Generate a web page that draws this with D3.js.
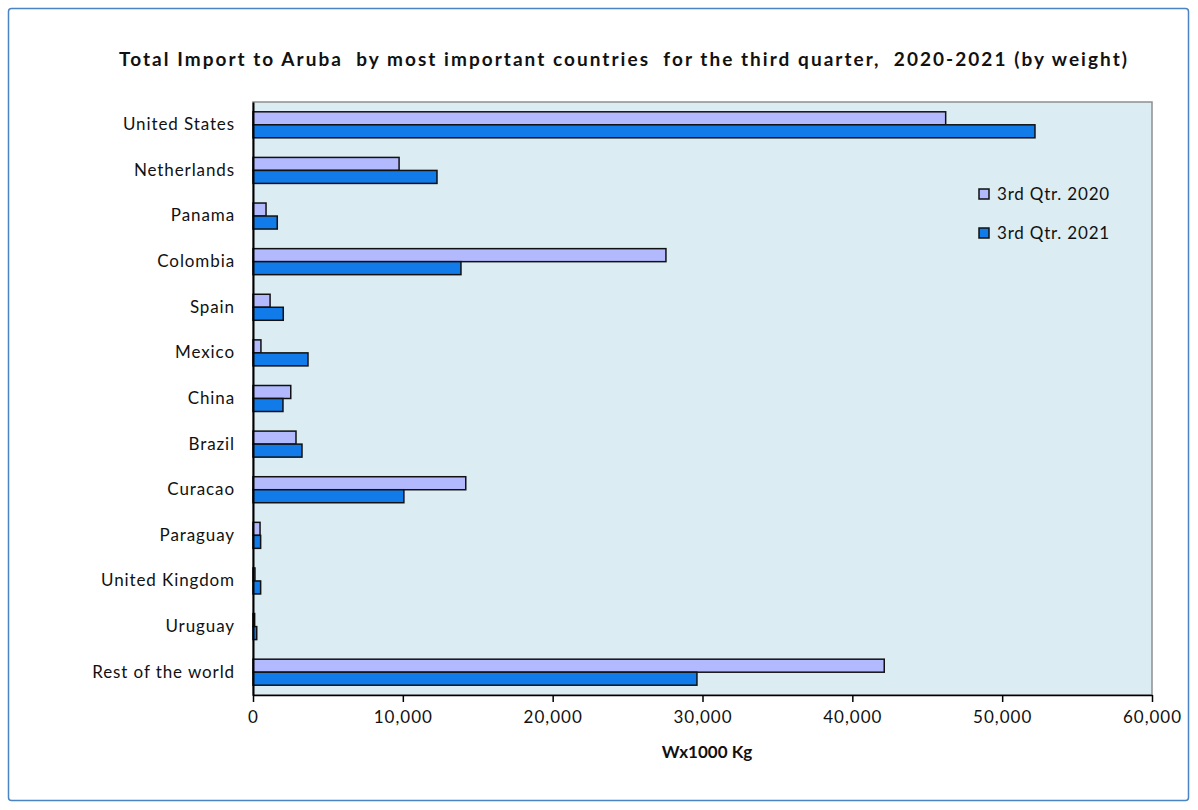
<!DOCTYPE html>
<html><head><meta charset="utf-8">
<script src="https://cdn.jsdelivr.net/npm/d3@7"></script>
<style>body{margin:0;background:#fff;} text{font-family:Lato,"Open Sans",sans-serif;fill:#111;}</style>
</head><body>
<svg id="c" width="1198" height="810"></svg>
<script>
const categories = ["United States","Netherlands","Panama","Colombia","Spain","Mexico","China","Brazil","Curacao","Paraguay","United Kingdom","Uruguay","Rest of the world"];
const q2020 = [46230, 9750, 870, 27560, 1140, 530, 2520, 2870, 14200, 470, 130, 110, 42130];
const q2021 = [52190, 12280, 1620, 13880, 2020, 3670, 2000, 3270, 10070, 510, 510, 250, 29630];
const seriesNames = ["3rd Qtr. 2020", "3rd Qtr. 2021"];
const xTicks = [0,10000,20000,30000,40000,50000,60000];
const colors = ["#b3b9fd", "#117be9"];

const svg = d3.select("#c");
svg.append("rect").attr("x",8.5).attr("y",8.5).attr("width",1180).attr("height",792).attr("rx",3)
  .attr("fill","#fff").attr("stroke","#4a84c4").attr("stroke-width",1.5);

const L=253, R=1152, T=102, B=695;
const x = d3.scaleLinear().domain([0,60000]).range([L,R]);
const p = 1 - 26/45.6;
const y = d3.scaleBand().domain(categories).range([T,B]).paddingInner(p).paddingOuter(p/2);

svg.append("rect").attr("x",L).attr("y",T).attr("width",R-L).attr("height",B-T)
  .attr("fill","#dbedf3").attr("stroke","#8e8e8e").attr("stroke-width",1.5);

svg.append("text").attr("x",623).attr("y",66).attr("text-anchor","middle")
  .attr("font-size",19).attr("font-weight","bold")
  .attr("xml:space","preserve").style("white-space","pre")
  .attr("textLength",1008).attr("lengthAdjust","spacing")
  .text("Total Import to Aruba  by most important countries  for the third quarter,  2020-2021 (by weight)");

const data = categories.map((c,i)=>({c, v:[q2020[i], q2021[i]]}));
const bh = y.bandwidth()/2;
const g = svg.append("g");
[0,1].forEach(s=>{
  g.selectAll(".b"+s).data(data).enter().append("rect")
    .attr("x",x(0)).attr("y",d=>y(d.c)+s*bh)
    .attr("width",d=>x(d.v[s])-x(0)).attr("height",bh)
    .attr("fill",colors[s]).attr("stroke","#111").attr("stroke-width",1.5);
});

// y axis
const ya = svg.append("g").attr("transform",`translate(${L},0)`).call(d3.axisLeft(y).tickSize(0).tickPadding(18));
ya.select(".domain").attr("stroke","#000").attr("stroke-width",2);
ya.selectAll("text").attr("font-size",17).attr("letter-spacing","0.9px").attr("font-family","Lato,sans-serif").attr("fill","#111");

// x axis
const xa = svg.append("g").attr("transform",`translate(0,${B})`)
  .call(d3.axisBottom(x).tickValues(xTicks).tickFormat(d3.format(",")).tickSize(7).tickPadding(9).tickSizeOuter(0));
xa.select(".domain").attr("stroke","#000").attr("stroke-width",1.5);
xa.selectAll("line").attr("stroke","#000").attr("stroke-width",1.5);
xa.selectAll("text").attr("font-size",17).attr("letter-spacing","1px").attr("font-family","Lato,sans-serif").attr("fill","#111");

svg.append("text").attr("x",707).attr("y",758).attr("text-anchor","middle")
  .attr("font-size",17).attr("font-weight","bold").text("Wx1000 Kg");

// legend
const lg = svg.append("g");
seriesNames.forEach((n,i)=>{
  const yy = 194 + i*39;
  lg.append("rect").attr("x",979).attr("y",yy-5).attr("width",10).attr("height",10)
    .attr("fill",colors[i]).attr("stroke","#111").attr("stroke-width",1.5);
  lg.append("text").attr("x",997).attr("y",yy+6).attr("font-size",17).attr("letter-spacing","0.8px").text(n);
});
</script>
</body></html>
